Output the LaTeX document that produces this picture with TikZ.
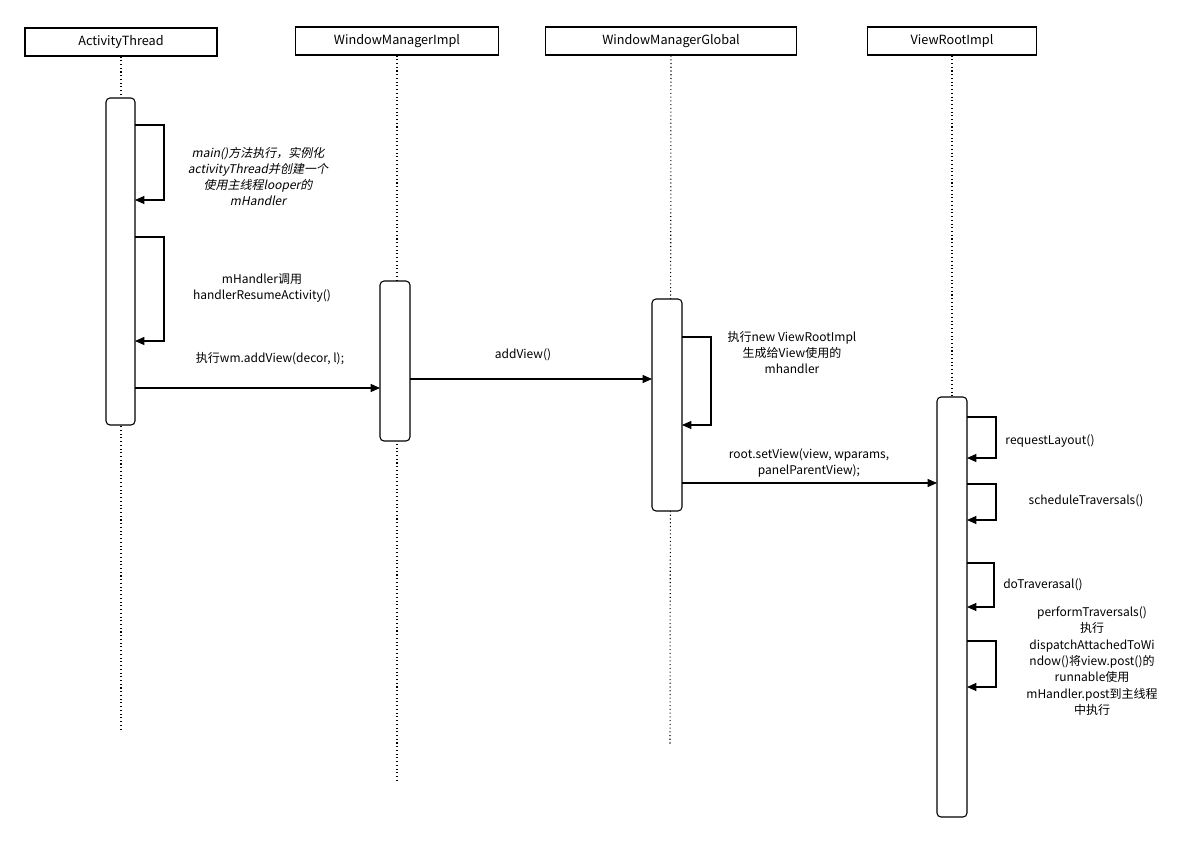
\documentclass[tikz,border=0pt]{standalone}
\usepackage{fontspec}
\setmainfont{Noto Sans CJK SC}[AutoFakeSlant=0.2]
\usetikzlibrary{arrows.meta}
\begin{document}
\begin{tikzpicture}[x=0.75pt,y=-0.75pt,
  hdr/.style={draw,thick,minimum height=21pt,inner sep=0pt,font=\fontsize{9.5}{11}\selectfont},
  life/.style={thick,dotted},
  act/.style={draw,thick,fill=white,rounded corners=3pt},
  msg/.style={thick,-{Triangle[length=7pt,width=6pt]}},
  lbl/.style={font=\fontsize{9}{12}\selectfont,align=center,inner sep=0pt}]
\useasboundingbox (0,0) rectangle (1191,842);
% headers
\node[hdr,minimum width=144pt] (h1) at (121,42) {ActivityThread};
\node[hdr,minimum width=152pt] (h2) at (397,41) {WindowManagerImpl};
\node[hdr,minimum width=188pt] (h3) at (671,41) {WindowManagerGlobal};
\node[hdr,minimum width=127pt] (h4) at (952,41) {ViewRootImpl};
\coordinate (e1) at (121,730); \coordinate (e2) at (397,783);
\coordinate (e3) at (670,745); \coordinate (e4) at (952,397);
\draw[life] (h1.south) -- (e1);
\draw[life] (h2.south) -- (e2);
\draw[life] (h3.south) -- (e3);
\draw[life] (h4.south) -- (e4);
% activations
\draw[act] (106,98) rectangle (135,425);
\draw[act] (380,281) rectangle (410,441);
\draw[act] (652,299) rectangle (682,511);
\draw[act] (937,397) rectangle (967,817);
% ActivityThread self calls
\draw[msg] (135,125) -- (164,125) -- (164,200) -- (135,200);
\node[lbl,font=\fontsize{9}{12}\selectfont\itshape] (t1) at (258,176) {main()方法执行，实例化\\activityThread并创建一个\\使用主线程looper的\\mHandler};
\draw[msg] (135,237) -- (164,237) -- (164,341) -- (135,341);
\node[lbl] (t2) at (262,288) {mHandler调用\\handlerResumeActivity()};
% calls
\coordinate (a1) at (135,388); \coordinate (b1) at (380,388);
\draw[msg] (a1) -- (b1);
\node[lbl] (t3) at (270,359) {执行wm.addView(decor, l);};
\coordinate (a2) at (410,379); \coordinate (b2) at (652,379);
\draw[msg] (a2) -- (b2);
\node[lbl] (t4) at (523,355) {addView()};
\draw[msg] (682,337) -- (711,337) -- (711,425) -- (682,425);
\node[lbl] (t5) at (792,353) {执行new ViewRootImpl\\生成给View使用的\\mhandler};
\coordinate (a3) at (682,483); \coordinate (b3) at (937,483);
\draw[msg] (a3) -- (b3);
\node[lbl] (t6) at (809,463) {root.setView(view, wparams,\\panelParentView);};
% ViewRootImpl self calls
\draw[msg] (967,417) -- (996,417) -- (996,458) -- (967,458);
\node[lbl] (t7) at (1050,441) {requestLayout()};
\draw[msg] (967,484) -- (996,484) -- (996,520) -- (967,520);
\node[lbl] (t8) at (1086,501) {scheduleTraversals()};
\draw[msg] (967,563) -- (994,563) -- (994,607) -- (967,607);
\node[lbl] (t9) at (1043,585) {doTraverasal()};
\draw[msg] (967,641) -- (996,641) -- (996,687) -- (967,687);
\node[lbl,font=\fontsize{9}{12.3}\selectfont] (t10) at (1092,661) {performTraversals()\\执行\\dispatchAttachedToWi\\ndow()将view.post()的\\runnable使用\\mHandler.post到主线程\\中执行};
\end{tikzpicture}
\end{document}
